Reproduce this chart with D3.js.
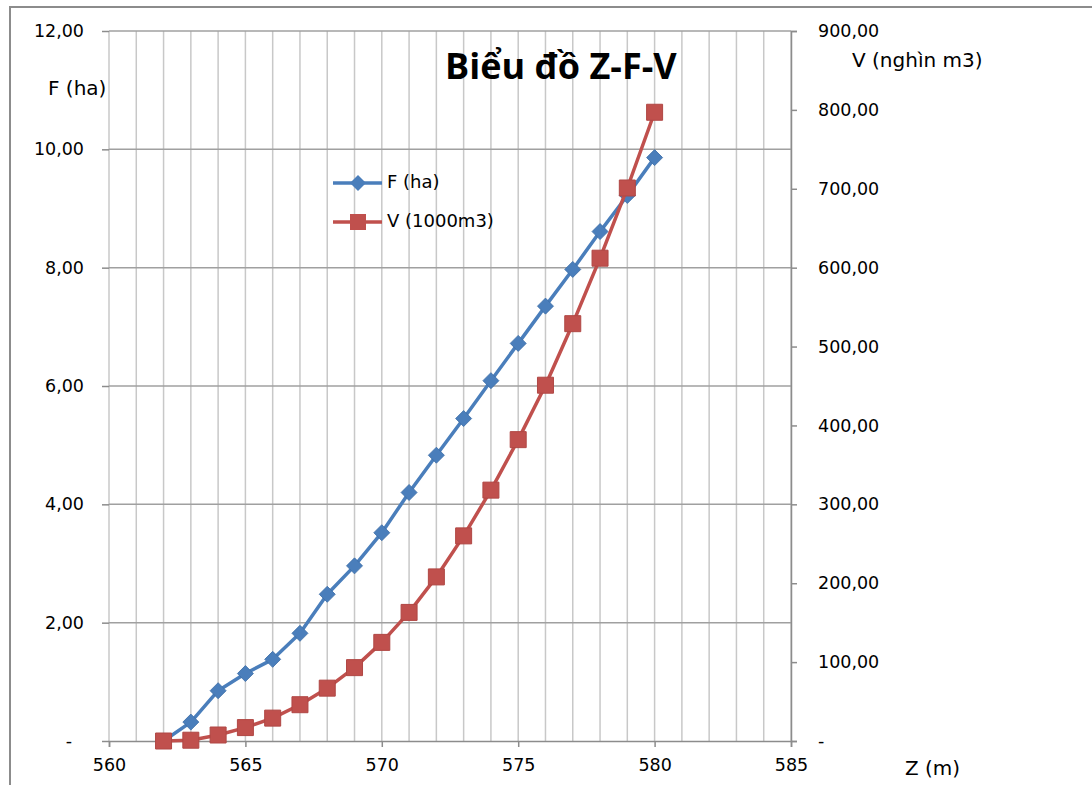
<!DOCTYPE html>
<html>
<head>
<meta charset="utf-8">
<script src="https://cdn.jsdelivr.net/npm/d3@7"></script>
<style>
  body { margin: 0; background: #fff; }
  text { font-family: "DejaVu Sans", Verdana, sans-serif; fill: #000; }
</style>
</head>
<body>
<div id="wrapper"></div>
<script>
// Z (m) elevations, F (ha) area, V (1000 m3) volume
const zValues = [562, 563, 564, 565, 566, 567, 568, 569, 570, 571, 572, 573, 574, 575, 576, 577, 578, 579, 580]
const fValues = [0, 0.32, 0.85, 1.14, 1.38, 1.82, 2.48, 2.96, 3.52, 4.20, 4.83, 5.45, 6.09, 6.72, 7.35, 7.97, 8.61, 9.22, 9.86]
const vValues = [0, 1, 7.6, 17, 29, 46, 67, 93, 125, 163, 208, 260, 318, 382, 451, 529, 612, 701, 797]

const xTicks = [560, 565, 570, 575, 580, 585]
const leftTicks = [0, 2, 4, 6, 8, 10, 12]
const rightTicks = [0, 100, 200, 300, 400, 500, 600, 700, 800, 900]
const minorX = d3.range(560, 586)

const titleText = "Biểu đồ Z-F-V"
const seriesNames = ["F (ha)", "V (1000m3)"]

function drawChart() {

  // 1. Data
  const fData = zValues.map((z, i) => ({ z, v: fValues[i] }))
  const vData = zValues.map((z, i) => ({ z, v: vValues[i] }))

  // 2. Dimensions
  let dimensions = {
    width: 1092,
    height: 785,
    margin: { top: 31, right: 301, bottom: 44, left: 109 },
  }
  dimensions.boundedWidth = dimensions.width - dimensions.margin.left - dimensions.margin.right
  dimensions.boundedHeight = dimensions.height - dimensions.margin.top - dimensions.margin.bottom

  const blue = "#4a7ebb"
  const red = "#c0504d"

  // 3. Canvas
  const wrapper = d3.select("#wrapper")
    .append("svg")
      .attr("width", dimensions.width)
      .attr("height", dimensions.height)

  // chart border (runs off the picture to the right and bottom)
  wrapper.append("rect")
      .attr("x", 10)
      .attr("y", 7)
      .attr("width", 1200)
      .attr("height", 900)
      .attr("fill", "none")
      .attr("stroke", "#8c8c8c")
      .attr("stroke-width", 2)

  const bounds = wrapper.append("g")
      .attr("transform", `translate(${dimensions.margin.left},${dimensions.margin.top})`)

  // 4. Scales
  const xScale = d3.scaleLinear()
    .domain([560, 585])
    .range([0, dimensions.boundedWidth])

  const yScale = d3.scaleLinear()
    .domain([0, 12])
    .range([dimensions.boundedHeight, 0])

  const y2Scale = d3.scaleLinear()
    .domain([0, 900])
    .range([dimensions.boundedHeight, 0])

  const comma = d3.formatLocale({ decimal: ",", thousands: ".", grouping: [3], currency: ["", ""] }).format(".2f")
  const fmt = d => d === 0 ? "-" : comma(d)

  // 5. Grid
  bounds.append("g")
    .selectAll("line")
    .data(minorX)
    .join("line")
      .attr("x1", d => xScale(d))
      .attr("x2", d => xScale(d))
      .attr("y1", 0)
      .attr("y2", dimensions.boundedHeight)
      .attr("stroke", "#c8c8c8")
      .attr("stroke-width", 1.5)

  bounds.append("g")
    .selectAll("line")
    .data(leftTicks.filter(d => d > 0))
    .join("line")
      .attr("x1", 0)
      .attr("x2", dimensions.boundedWidth)
      .attr("y1", d => yScale(d))
      .attr("y2", d => yScale(d))
      .attr("stroke", "#a0a0a0")
      .attr("stroke-width", 1.5)

  // 6. Axes
  const xAxis = bounds.append("g")
      .attr("transform", `translate(0,${dimensions.boundedHeight})`)
      .call(d3.axisBottom(xScale).tickValues(xTicks).tickSize(6).tickPadding(12).tickFormat(d3.format("d")))
  xAxis.select(".domain").attr("stroke", "#8c8c8c").attr("stroke-width", 1.5)

  const yAxis = bounds.append("g")
      .call(d3.axisLeft(yScale).tickValues(leftTicks).tickSize(7).tickPadding(18).tickFormat(fmt))
  yAxis.select(".domain").remove()

  const y2Axis = bounds.append("g")
      .attr("transform", `translate(${dimensions.boundedWidth},0)`)
      .call(d3.axisRight(y2Scale).tickValues(rightTicks).tickSize(6).tickPadding(21).tickFormat(fmt))
  y2Axis.select(".domain").attr("stroke", "#8c8c8c").attr("stroke-width", 1.5)

  ;[xAxis, yAxis, y2Axis].forEach(ax => {
    ax.selectAll(".tick line").attr("stroke", "#8c8c8c").attr("stroke-width", 1.5)
    ax.selectAll(".tick text")
      .style("font-family", "'DejaVu Sans', Verdana, sans-serif")
      .style("font-size", "17.5px")
      .attr("fill", "#000")
  })
  // zero label "-" sits further left on the left axis
  yAxis.selectAll(".tick text").filter(d => d === 0).attr("dx", -12)

  // 7. Series
  const lineGen = d3.line()
    .x(d => xScale(d.z))

  bounds.append("path")
      .datum(fData)
      .attr("fill", "none")
      .attr("stroke", blue)
      .attr("stroke-width", 3.5)
      .attr("stroke-linejoin", "round")
      .attr("d", lineGen.y(d => yScale(d.v)))

  const diamond = d3.symbol(d3.symbolSquare, 128)
  bounds.append("g")
    .selectAll("path")
    .data(fData)
    .join("path")
      .attr("d", diamond)
      .attr("transform", d => `translate(${xScale(d.z)},${yScale(d.v)}) rotate(45)`)
      .attr("fill", blue)
      .attr("stroke", "#3f6fa8")
      .attr("stroke-width", 0.8)

  bounds.append("path")
      .datum(vData)
      .attr("fill", "none")
      .attr("stroke", red)
      .attr("stroke-width", 3.5)
      .attr("stroke-linejoin", "round")
      .attr("d", lineGen.y(d => y2Scale(d.v)))

  const square = d3.symbol(d3.symbolSquare, 256)
  bounds.append("g")
    .selectAll("path")
    .data(vData)
    .join("path")
      .attr("d", square)
      .attr("transform", d => `translate(${xScale(d.z)},${y2Scale(d.v)})`)
      .attr("fill", red)
      .attr("stroke", "#b04744")
      .attr("stroke-width", 1)

  // 8. Title, axis titles, legend
  wrapper.append("text")
      .attr("x", 445)
      .attr("y", 79)
      .style("font-family", "'Open Sans', sans-serif")
      .style("font-weight", "bold")
      .style("font-size", "36px")
      .text(titleText)

  const axisTitle = (x, y, t) => wrapper.append("text")
      .attr("x", x)
      .attr("y", y)
      .attr("dominant-baseline", "middle")
      .style("font-size", "20px")
      .text(t)

  axisTitle(48, 89, "F (ha)")
  axisTitle(852, 61, "V (nghìn m3)")
  axisTitle(905, 769, "Z (m)")

  const legend = wrapper.append("g")
    .selectAll("g")
    .data(seriesNames)
    .join("g")
      .attr("transform", (d, i) => `translate(333,${183 + i * 39})`)

  legend.append("line")
      .attr("x1", 0)
      .attr("x2", 49)
      .attr("stroke", (d, i) => i === 0 ? blue : red)
      .attr("stroke-width", 3.5)

  legend.append("path")
      .attr("d", (d, i) => i === 0 ? diamond() : square())
      .attr("transform", (d, i) => `translate(25,0)${i === 0 ? " rotate(45)" : ""}`)
      .attr("fill", (d, i) => i === 0 ? blue : red)

  legend.append("text")
      .attr("x", 54)
      .attr("dominant-baseline", "middle")
      .style("font-size", "18px")
      .text(d => d)
}
drawChart()
</script>
</body>
</html>
